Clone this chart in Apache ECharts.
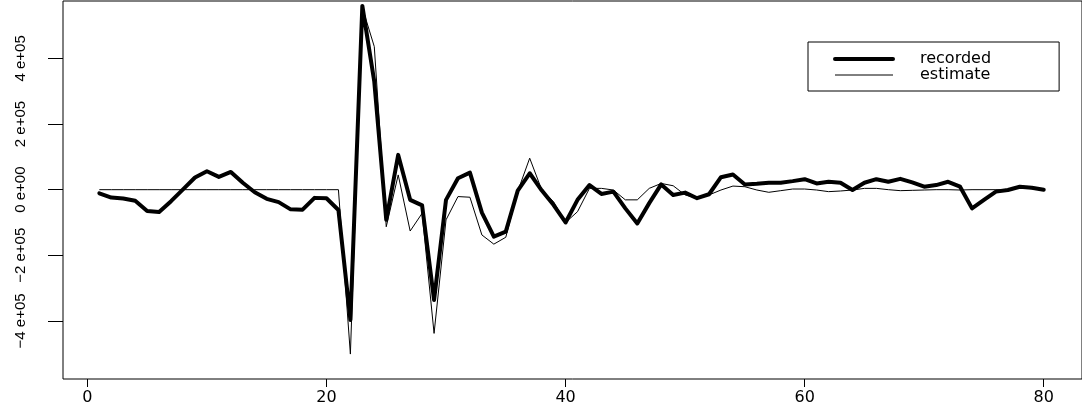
<!DOCTYPE html>
<html>
<head>
<meta charset="utf-8">
<script src="https://cdn.jsdelivr.net/npm/echarts@6/dist/echarts.min.js"></script>
<style>
html,body{margin:0;padding:0;background:#fff;}
#chart{width:1082px;height:419px;}
</style>
</head>
<body>
<div id="chart"></div>
<script>
// values in units of 1e5
var recorded = [
 -0.11,-0.24,-0.27,-0.34,-0.65,-0.68,-0.35, 0.01, 0.37, 0.56,
  0.39, 0.54, 0.21,-0.08,-0.28,-0.38,-0.60,-0.61,-0.25,-0.26,
 -0.62,-3.97, 5.60, 3.29,-0.92, 1.06,-0.31,-0.48,-3.36,-0.31,
  0.35, 0.52,-0.70,-1.43,-1.28,-0.03, 0.50,-0.02,-0.47,-1.00,
 -0.31, 0.14,-0.13,-0.06,-0.57,-1.03,-0.41, 0.16,-0.16,-0.09,
 -0.26,-0.14, 0.38, 0.46, 0.16, 0.18, 0.21, 0.21, 0.26, 0.32,
  0.19, 0.24, 0.21,-0.01, 0.21, 0.32, 0.24, 0.33, 0.22, 0.09,
  0.14, 0.24, 0.09,-0.57,-0.31,-0.06,-0.01, 0.09, 0.06, 0.00
];
var estimate = [
  0, 0, 0, 0, 0, 0, 0, 0, 0, 0,
  0, 0, 0, 0, 0, 0, 0, 0, 0, 0,
  0,-5.01, 5.55, 4.36,-1.13, 0.45,-1.26,-0.72,-4.38,-0.92,
 -0.21,-0.23,-1.38,-1.66,-1.45,-0.05, 0.96, 0.00,-0.37,-1.00,
 -0.67, 0.04, 0.04,-0.01,-0.31,-0.31, 0.04, 0.19, 0.12,-0.16,
 -0.26,-0.16,-0.01, 0.11, 0.09,-0.01,-0.08,-0.03, 0.02, 0.02,
 -0.01,-0.06,-0.04,-0.01, 0.04, 0.04, 0.00,-0.03,-0.02,-0.01,
  0.00, 0.00,-0.01, 0.00, 0.00, 0.00, 0.00, 0.06, 0.03, 0.00
];
var xTicks = [0, 20, 40, 60, 80];
var yTicks = [-400000, -200000, 0, 200000, 400000];
var yTickLabels = ['\u22124 e+05', '\u22122 e+05', '0 e+00', '2 e+05', '4 e+05'];
var seriesNames = ['recorded', 'estimate'];

function toPairs(arr) {
  return arr.map(function (v, i) { return [i + 1, v * 1e5]; });
}

var chart = echarts.init(document.getElementById('chart'), null, {renderer: 'canvas'});
chart.setOption({
  animation: false,
  backgroundColor: '#fff',
  grid: {
    left: 63, top: 1, bottom: 40, right: -4,
    show: true, borderColor: '#000', borderWidth: 1, backgroundColor: 'transparent'
  },
  legend: {
    orient: 'vertical',
    left: 808, top: 42,
    itemWidth: 58, itemHeight: 14, itemGap: 0,
    padding: [9, 68, 8, 25],
    borderColor: '#000', borderWidth: 1, borderRadius: 0,
    backgroundColor: '#fff',
    itemStyle: { opacity: 0 },
    data: [
      { name: seriesNames[0], lineStyle: { width: 4 } },
      { name: seriesNames[1], lineStyle: { width: 1 } }
    ],
    textStyle: { fontFamily: 'DejaVu Sans', fontSize: 16, lineHeight: 14, color: '#000', padding: [0, 0, 0, 22] }
  },
  xAxis: {
    type: 'value', min: -2.04, max: 83.2,
    axisLine: { show: false, onZero: false },
    splitLine: { show: false },
    axisTick: { show: true, length: 8, lineStyle: { color: '#000', width: 1 }, customValues: xTicks },
    axisLabel: { customValues: xTicks, margin: 11, fontFamily: 'DejaVu Sans', fontSize: 16, color: '#000' }
  },
  yAxis: {
    type: 'value', min: -577000, max: 575000,
    axisLine: { show: false, onZero: false },
    splitLine: { show: false },
    axisTick: { show: true, length: 15, lineStyle: { color: '#000', width: 1 }, customValues: yTicks },
    axisLabel: {
      customValues: yTicks, rotate: 90, margin: 35,
      fontFamily: 'Liberation Sans', fontSize: 15, color: '#000',
      formatter: function (v) {
        var k = yTicks.indexOf(v);
        return k >= 0 ? yTickLabels[k] : '';
      }
    }
  },
  series: [
    {
      name: seriesNames[0], type: 'line', symbol: 'none',
      data: toPairs(recorded),
      lineStyle: { color: '#000', width: 4, join: 'round', cap: 'round' },
      itemStyle: { color: '#000' }
    },
    {
      name: seriesNames[1], type: 'line', symbol: 'none',
      data: toPairs(estimate),
      lineStyle: { color: '#000', width: 1 },
      itemStyle: { color: '#000' }
    }
  ]
});
</script>
</body>
</html>
